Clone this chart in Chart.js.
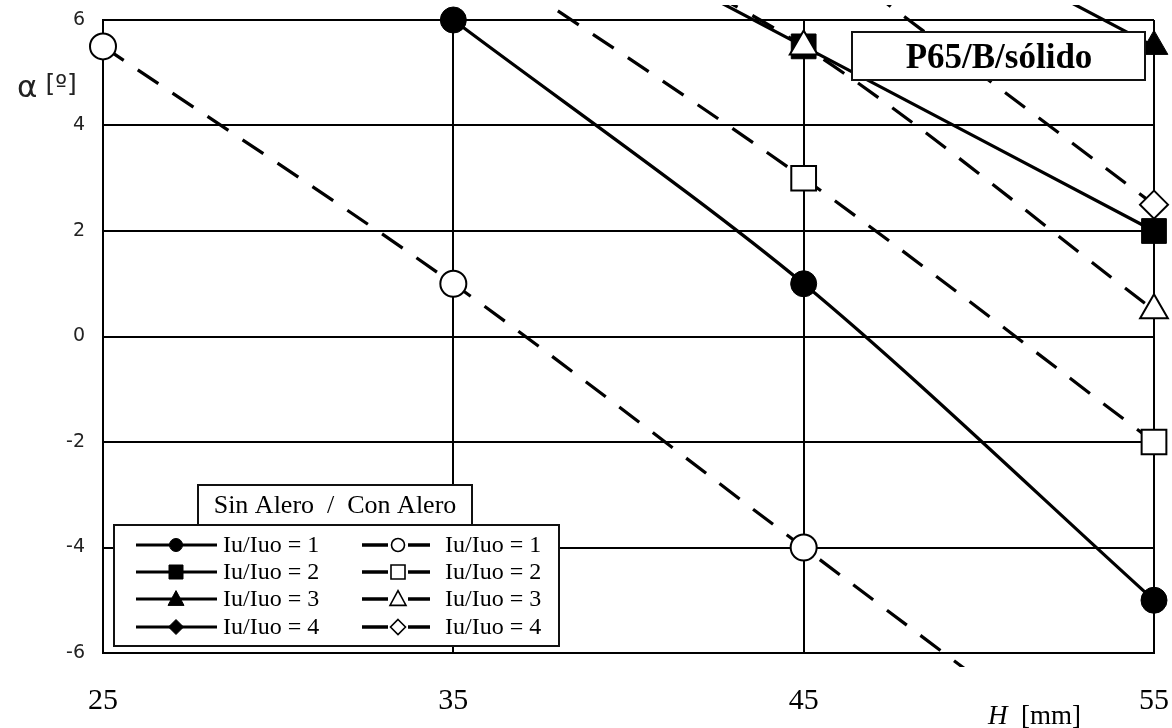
<!DOCTYPE html>
<html>
<head>
<meta charset="utf-8">
<script src="https://cdn.jsdelivr.net/npm/chart.js@4/dist/chart.umd.min.js"></script>
<style>
  html, body { margin: 0; padding: 0; background: #fff; }
  #wrap { width: 1172px; height: 728px; }
</style>
</head>
<body>
<div id="wrap"><canvas id="c" width="1172" height="728"></canvas></div>
<script>
// ---- data ----
const hValues = [25, 35, 45, 55];
const xTicks = [25, 35, 45, 55];
const yTicks = [-6, -4, -2, 0, 2, 4, 6];
// Sin Alero (solid, filled markers)
const sin1 = [null, 6, 1, -5];
const sin2 = [null, 9, 5.5, 2];
const sin3 = [null, null, 9, 5.5];
const sin4 = [null, null, null, null];
// Con Alero (dashed, open markers)
const con1 = [5.5, 1, -4, -9];
const con2 = [null, 7.5, 3, -2];
const con3 = [null, 9, 5.5, 0.5];
const con4 = [null, null, 7.5, 2.5];
const legendLabels = ['Iu/Iuo = 1', 'Iu/Iuo = 2', 'Iu/Iuo = 3', 'Iu/Iuo = 4'];
const legendHeader = 'Sin Alero  /  Con Alero';
const chartTitle = 'P65/B/sólido';
const yTitleSym = 'α';
const yTitleUnit = ' [º]';
const xTitleItalic = 'H';
const xTitleRest = '  [mm]';

const shapes = ['circle', 'rect', 'triangle', 'rectRot'];
const radii = [13, 17.5, 16, 14];

function pts(arr) {
  return hValues.map((h, i) => ({ x: h, y: arr[i] })).filter(p => p.y !== null);
}

function ds(arr, idx, dashed) {
  return {
    data: pts(arr),
    borderColor: '#000',
    borderWidth: 3.2,
    borderDash: dashed ? [25, 17] : [],
    borderCapStyle: 'butt',
    tension: 0.3,
    pointStyle: shapes[idx],
    pointRadius: radii[idx],
    pointHoverRadius: radii[idx],
    pointBackgroundColor: dashed ? '#fff' : '#000',
    pointBorderColor: '#000',
    pointBorderWidth: dashed ? 2 : 1,
    clip: { left: 30, right: 30, top: 15, bottom: 14 },
    order: dashed ? 0 : 1
  };
}

const datasets = [
  ds(sin1, 0, false), ds(sin2, 1, false), ds(sin3, 2, false), ds(sin4, 3, false),
  ds(con1, 0, true), ds(con2, 1, true), ds(con3, 2, true), ds(con4, 3, true)
];

function marker(ctx, shape, x, y, r, filled) {
  ctx.save();
  ctx.beginPath();
  if (shape === 'circle') {
    ctx.arc(x, y, r, 0, Math.PI * 2);
  } else if (shape === 'rect') {
    ctx.rect(x - r, y - r, 2 * r, 2 * r);
  } else if (shape === 'triangle') {
    ctx.moveTo(x, y - r * 1.05);
    ctx.lineTo(x + r, y + r * 0.8);
    ctx.lineTo(x - r, y + r * 0.8);
    ctx.closePath();
  } else {
    ctx.moveTo(x, y - r);
    ctx.lineTo(x + r, y);
    ctx.lineTo(x, y + r);
    ctx.lineTo(x - r, y);
    ctx.closePath();
  }
  ctx.fillStyle = filled ? '#000' : '#fff';
  ctx.fill();
  ctx.lineWidth = filled ? 1 : 1.6;
  ctx.strokeStyle = '#000';
  ctx.stroke();
  ctx.restore();
}

const overlay = {
  id: 'overlay',
  beforeDraw(chart) {
    const ctx = chart.ctx;
    ctx.save();
    ctx.fillStyle = '#fff';
    ctx.fillRect(0, 0, chart.width, chart.height);
    ctx.restore();
  },
  afterDraw(chart) {
    const ctx = chart.ctx;
    ctx.save();
    // title box
    ctx.fillStyle = '#fff';
    ctx.fillRect(852, 32, 293, 48);
    ctx.strokeStyle = '#111';
    ctx.lineWidth = 2;
    ctx.strokeRect(852, 32, 293, 48);
    ctx.fillStyle = '#000';
    ctx.font = 'bold 35px "Liberation Serif"';
    ctx.textAlign = 'center';
    ctx.textBaseline = 'alphabetic';
    ctx.fillText(chartTitle, 999, 68);

    // y title
    ctx.textAlign = 'left';
    ctx.fillStyle = '#222';
    ctx.font = '31px "DejaVu Sans"';
    ctx.fillText(yTitleSym, 17, 97);
    const wA = ctx.measureText(yTitleSym).width;
    ctx.font = '25px "DejaVu Sans"';
    ctx.fillText(yTitleUnit, 17 + wA, 92);

    // x title
    ctx.fillStyle = '#000';
    ctx.font = 'italic 27px "Liberation Serif"';
    ctx.fillText(xTitleItalic, 988, 724);
    const wH = ctx.measureText(xTitleItalic).width;
    ctx.font = '27px "Liberation Serif"';
    ctx.fillText(xTitleRest, 988 + wH, 724);

    // legend header
    ctx.fillStyle = '#fff';
    ctx.fillRect(198, 485, 274, 40);
    ctx.strokeStyle = '#111';
    ctx.lineWidth = 2;
    ctx.strokeRect(198, 485, 274, 40);
    ctx.fillStyle = '#000';
    ctx.font = '26px "Liberation Serif"';
    ctx.textAlign = 'center';
    ctx.textBaseline = 'middle';
    ctx.fillText(legendHeader, 335, 506);

    // legend box
    ctx.fillStyle = '#fff';
    ctx.fillRect(114, 525, 445, 121);
    ctx.strokeRect(114, 525, 445, 121);

    const rows = [545, 572, 599, 627];
    const lr = [6.5, 7, 8, 7.5];
    ctx.textAlign = 'left';
    ctx.font = '24px "Liberation Serif"';
    for (let i = 0; i < 4; i++) {
      const y = rows[i];
      ctx.strokeStyle = '#000';
      ctx.lineWidth = 3;
      ctx.beginPath();
      ctx.moveTo(136, y); ctx.lineTo(217, y); ctx.stroke();
      marker(ctx, shapes[i], 176, y, lr[i], true);
      ctx.fillStyle = '#000';
      ctx.fillText(legendLabels[i], 223, y + 1);
      ctx.beginPath();
      ctx.moveTo(362, y); ctx.lineTo(388, y);
      ctx.moveTo(408, y); ctx.lineTo(430, y);
      ctx.lineWidth = 3.5;
      ctx.stroke();
      marker(ctx, shapes[i], 398, y, lr[i], false);
      ctx.fillStyle = '#000';
      ctx.fillText(legendLabels[i], 445, y + 1);
    }
    ctx.restore();
  }
};

new Chart(document.getElementById('c'), {
  type: 'line',
  data: { datasets },
  options: {
    responsive: false,
    animation: false,
    events: [],
    layout: { autoPadding: false, padding: { left: 0, right: 18, top: 20, bottom: 0 } },
    plugins: { legend: { display: false }, tooltip: { enabled: false } },
    scales: {
      x: {
        type: 'linear',
        min: 25, max: 55,
        afterFit(s) { s.height = 75; s.paddingLeft = 0; s.paddingRight = 0; },
        afterBuildTicks(s) { s.ticks = xTicks.map(v => ({ value: v })); },
        ticks: { color: '#000', font: { family: 'Liberation Serif', size: 30 }, padding: 30, maxRotation: 0 },
        grid: { color: '#000', lineWidth: 2, drawTicks: false },
        border: { color: '#000', width: 2 }
      },
      y: {
        type: 'linear',
        min: -6, max: 6,
        afterFit(s) { s.width = 103; s.paddingTop = 0; s.paddingBottom = 0; },
        afterBuildTicks(s) { s.ticks = yTicks.map(v => ({ value: v })); },
        ticks: { color: '#222', font: { family: 'DejaVu Sans', size: 19 }, padding: 18 },
        grid: { color: '#000', lineWidth: 2, drawTicks: false },
        border: { color: '#000', width: 2 }
      }
    }
  },
  plugins: [overlay]
});
</script>
</body>
</html>
